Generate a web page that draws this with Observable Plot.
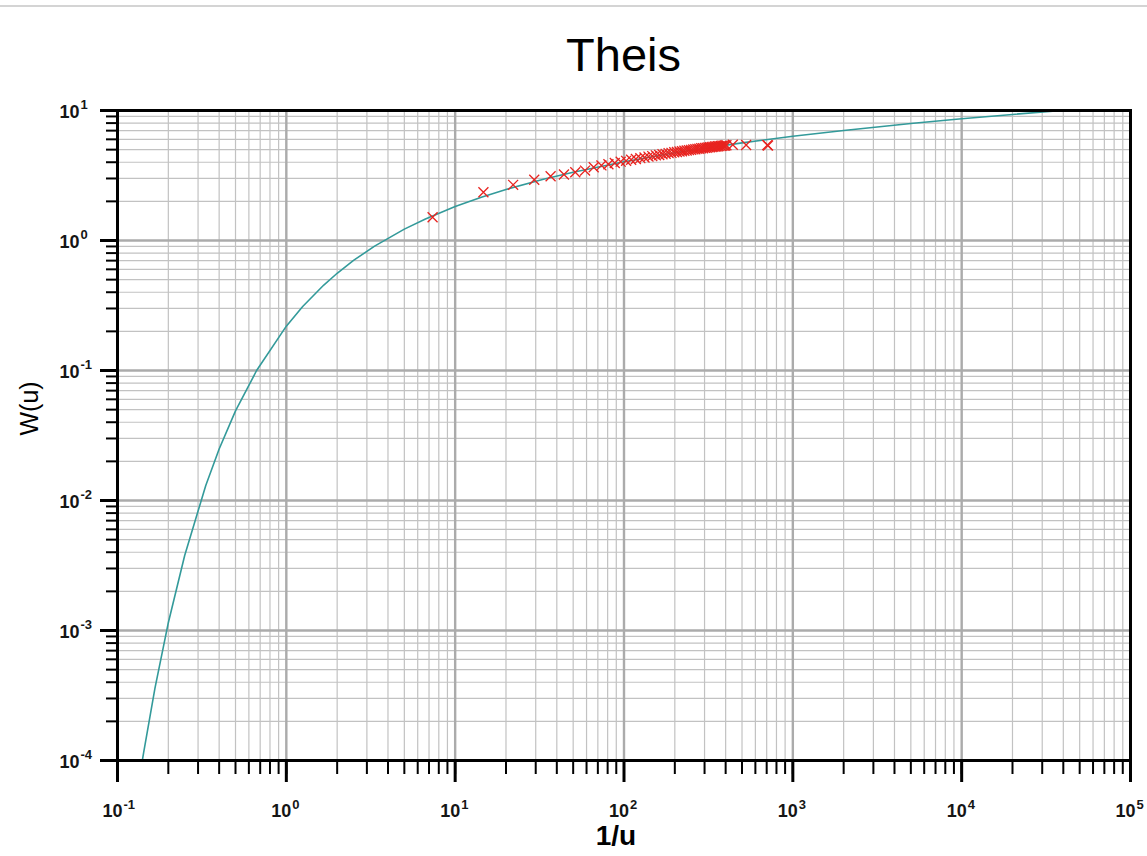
<!DOCTYPE html>
<html>
<head>
<meta charset="utf-8">
<script src="https://cdn.jsdelivr.net/npm/d3@7"></script>
<script src="https://cdn.jsdelivr.net/npm/@observablehq/plot@0.6"></script>
<style>
  body { margin: 0; background: #fff; font-family: "Liberation Sans", Arial, sans-serif; }
  #wrap { position: relative; width: 1147px; height: 856px; overflow: hidden; background: #fff; }
  #edge { position: absolute; left: 0; top: 5px; width: 1147px; border-top: 2px solid #d4d4d4; }
  #title { position: absolute; left: 117px; top: 28px; width: 1013px; text-align: center;
           font-size: 47px; line-height: 54px; color: #000; }
  #chart { position: absolute; left: 0; top: 86px; }
</style>
</head>
<body>
<div id="wrap">
  <div id="edge"></div>
  <div id="title">Theis</div>
  <div id="chart"></div>
</div>
<script>
// Theis well function W(u) against 1/u (tabulated type curve)
const curveInvU = [0.1403, 0.1429, 0.1667, 0.2, 0.25, 0.3333, 0.4, 0.5, 0.6667, 1, 1.25, 1.667, 2, 2.5,
  3.333, 5, 6.667, 10, 14.29, 20, 33.33, 50, 100, 200, 500, 1000, 2000, 5000, 10000, 20000, 39200];
const curveW = [1.0e-4, 1.155e-4, 3.60e-4, 1.148e-3, 3.779e-3, 1.305e-2, 2.491e-2, 4.890e-2, 0.1000, 0.2194,
  0.3106, 0.4544, 0.5598, 0.7024, 0.9057, 1.2227, 1.4645, 1.8229, 2.1508, 2.4679, 2.9591, 3.3547, 4.0379,
  4.7261, 5.6394, 6.3315, 7.0242, 7.9402, 8.6332, 9.3263, 10.0];

// Measured drawdown points plotted on the type curve
const obsInvU = [7.35, 14.7, 22.05, 29.4, 36.75, 44.1, 51.45, 58.8, 66.15, 73.5, 80.85, 88.2, 95.55, 102.9,
  110.25, 117.6, 124.95, 132.3, 139.65, 147, 154.35, 161.7, 169.05, 176.4, 183.75, 191.1, 198.45, 205.8,
  213.15, 220.5, 227.85, 235.2, 242.55, 249.9, 257.25, 264.6, 271.95, 279.3, 286.65, 294, 301.35, 308.7,
  316.05, 323.4, 330.75, 338.1, 345.45, 352.8, 360.15, 367.5, 374.85, 382.2, 389.55, 396.9, 404.25,
  441, 529, 706, 713];
const obsW = [1.51, 2.35, 2.68, 2.93, 3.12, 3.22, 3.35, 3.45, 3.66, 3.78, 3.86, 3.95, 4.04, 4.10,
  4.18, 4.24, 4.30, 4.35, 4.42, 4.46, 4.52, 4.55, 4.61, 4.64, 4.70, 4.72, 4.77, 4.80,
  4.84, 4.86, 4.90, 4.92, 4.96, 4.98, 5.02, 5.03, 5.07, 5.08, 5.12, 5.13, 5.16, 5.17,
  5.20, 5.21, 5.24, 5.25, 5.28, 5.29, 5.31, 5.32, 5.34, 5.35, 5.37, 5.38, 5.40,
  5.45, 5.43, 5.42, 5.38];

// Decade ticks and their exponent labels
const xMajor = [0.1, 1, 10, 100, 1000, 10000, 100000];
const xExp = ["-1", "0", "1", "2", "3", "4", "5"];
const yMajor = [0.0001, 0.001, 0.01, 0.1, 1, 10];
const yExp = ["-4", "-3", "-2", "-1", "0", "1"];

const xDomain = [0.1, 100000];
const yDomain = [0.0001, 10];

const curve = curveInvU.map((v, i) => ({invU: v, W: curveW[i]}));
const obs = obsInvU.map((v, i) => ({invU: v, W: obsW[i]}));

// 1..9 × 10^n positions for the minor grid and ticks
const xMinor = d3.scaleLog().domain(xDomain).ticks();
const yMinor = d3.scaleLog().domain(yDomain).ticks();

const font = "Liberation Sans, Arial, sans-serif";
const blank = () => "";

const chart = Plot.plot({
  width: 1147,
  height: 770,
  marginTop: 24,
  marginBottom: 96,
  marginLeft: 117,
  marginRight: 17,
  x: {type: "log", domain: xDomain, label: null},
  y: {type: "log", domain: yDomain, label: null},
  style: {fontFamily: font, background: "transparent", color: "#000"},
  marks: [
    Plot.ruleX(xMinor, {stroke: "#c2c2c2", strokeWidth: 1.2}),
    Plot.ruleY(yMinor, {stroke: "#c2c2c2", strokeWidth: 1.2}),
    Plot.ruleX(xMajor, {stroke: "#ababab", strokeWidth: 2.4}),
    Plot.ruleY(yMajor, {stroke: "#ababab", strokeWidth: 2.4}),
    Plot.line(curve, {x: "invU", y: "W", stroke: "#339a9a", strokeWidth: 1.6, clip: true}),
    Plot.dot(obs, {x: "invU", y: "W", symbol: "times", r: 4.6, stroke: "#e8231f", strokeWidth: 1.3}),
    Plot.frame({stroke: "#000", strokeWidth: 3}),
    Plot.axisX(xMinor, {tickSize: 14, tickFormat: blank, strokeWidth: 2, label: null}),
    Plot.axisX(xMajor, {tickSize: 22, tickFormat: blank, strokeWidth: 3, label: null}),
    Plot.axisY(yMinor, {tickSize: 11, tickFormat: blank, strokeWidth: 2, label: null}),
    Plot.axisY(yMajor, {tickSize: 17, tickFormat: blank, strokeWidth: 3, label: null}),
    // x tick labels: base "10" with raised exponent
    Plot.text(xMajor, {x: d => d, frameAnchor: "bottom", text: () => "10", dy: 56, dx: 5,
      textAnchor: "end", fontSize: 18, fontWeight: "bold", fill: "#151515"}),
    Plot.text(xMajor, {x: d => d, frameAnchor: "bottom", text: (d, i) => xExp[i], dy: 48, dx: 6,
      textAnchor: "start", fontSize: 13, fontWeight: "bold", fill: "#151515"}),
    // y tick labels
    Plot.text(yMajor, {y: d => d, frameAnchor: "left", text: () => "10", dx: -38, dy: 2,
      textAnchor: "end", fontSize: 18, fontWeight: "bold", fill: "#151515"}),
    Plot.text(yMajor, {y: d => d, frameAnchor: "left", text: (d, i) => yExp[i], dx: -37, dy: -6,
      textAnchor: "start", fontSize: 13, fontWeight: "bold", fill: "#151515"}),
    // axis titles
    Plot.text(["1/u"], {frameAnchor: "bottom", text: d => d, dy: 84, dx: -8, fontSize: 28, fontWeight: "bold", fill: "#000"}),
    Plot.text(["W(u)"], {frameAnchor: "left", text: d => d, dx: -88, rotate: -90, fontSize: 25, fill: "#000"})
  ]
});

document.getElementById("chart").appendChild(chart);
</script>
</body>
</html>
